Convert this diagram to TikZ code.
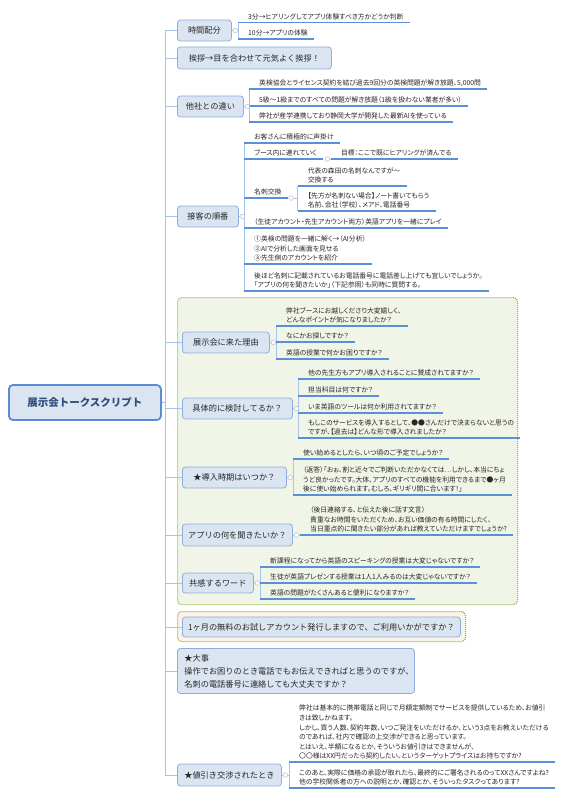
\documentclass[tikz,border=0pt]{standalone}
\usepackage{fontspec}
\newfontfamily\cjk{Noto Sans CJK JP}
\newfontfamily\cjkp[RawFeature=+palt]{Noto Sans CJK JP}
\usetikzlibrary{calc}
\definecolor{topicfill}{HTML}{DBE5F1}
\definecolor{topicline}{HTML}{8DAEDF}
\definecolor{rootline}{HTML}{5A8BD6}
\definecolor{roottext}{HTML}{2F4D7E}
\definecolor{conncol}{HTML}{A9C3E8}
\definecolor{ulcol}{HTML}{5B8FD8}
\definecolor{txt}{HTML}{262626}
\definecolor{grpfill}{HTML}{F1F5E8}
\definecolor{grpline}{HTML}{93B256}
\definecolor{grptwofill}{HTML}{FBF3E6}
\definecolor{grptwoline}{HTML}{9DA83C}
\definecolor{togline}{HTML}{BFC9D4}
\tikzset{
  topic/.style={draw=topicline, line width=0.8pt, fill=topicfill, rounded corners=3pt,
    font=\cjk\fontsize{8.2}{13}\selectfont, text=txt, inner sep=0pt, anchor=west},
  rootbox/.style={draw=rootline, line width=1.8pt, fill=topicfill, rounded corners=4pt,
    font=\cjk\bfseries\fontsize{10.5}{12}\selectfont, text=roottext, anchor=west, inner sep=0pt},
  leaf/.style={anchor=south west, xshift=4pt, inner xsep=6pt, inner ysep=2.3pt,
    font=\cjkp\fontsize{6.8}{9.6}\selectfont, align=left, text=txt},
  conn/.style={draw=conncol, line width=0.8pt},
  uline/.style={draw=ulcol, line width=1.4pt},
  tog/.style={circle, draw=togline, fill=white, line width=0.5pt, inner sep=0pt, minimum size=4.5pt},
  grpbox/.style={draw=grpline, dash pattern=on 1pt off 1pt, line width=1.1pt, fill=grpfill,
    rounded corners=4pt, anchor=north west, inner sep=0pt},
  grptwobox/.style={draw=grptwoline, dash pattern=on 1pt off 1pt, line width=1.1pt, fill=grptwofill,
    rounded corners=4pt, anchor=north west, inner sep=0pt}
}
\begin{document}
\begin{tikzpicture}[x=1pt,y=-1pt]
\useasboundingbox (0,0) rectangle (565,797);

% group backgrounds
\node[grpbox, minimum width=340pt, minimum height=307pt] (g1) at (177,297) {};
\node[grptwobox, minimum width=288pt, minimum height=30pt] (g2) at (177,611) {};

% root
\node[rootbox, minimum width=152pt, minimum height=35pt] (root) at (8,402.5) {展示会トークスクリプト};

% topics
\node[topic, minimum width=54pt, minimum height=21pt] (t1) at (177,30.5) {時間配分};
\node[topic, minimum width=154pt, minimum height=22pt] (t2) at (177,58) {挨拶→目を合わせて元気よく挨拶！};
\node[topic, minimum width=66pt, minimum height=21pt] (t3) at (177,106.5) {他社との違い};
\node[topic, minimum width=61pt, minimum height=21pt] (t4) at (177,216.5) {接客の順番};
\node[topic, minimum width=87pt, minimum height=21pt] (t5) at (182,342.5) {展示会に来た理由};
\node[topic, minimum width=110pt, minimum height=21pt] (t6) at (182,408.5) {具体的に検討してるか？};
\node[topic, minimum width=104pt, minimum height=21pt] (t7) at (182,477.5) {★導入時期はいつか？};
\node[topic, minimum width=110pt, minimum height=22pt] (t8) at (182,535) {アプリの何を聞きたいか？};
\node[topic, minimum width=71pt, minimum height=20pt] (t9) at (182,583) {共感するワード};
\node[topic, minimum width=278pt, minimum height=20pt] (t10) at (182,627) {1ヶ月の無料のお試しアカウント発行しますので、ご利用いかがですか？};
\node[topic, anchor=north west, minimum width=237pt, minimum height=45pt, align=left, text width=223pt, inner xsep=7pt] (t11) at (177,648)
  {★大事\\操作でお困りのとき電話でもお伝えできればと思うのですが、\\名刺の電話番号に連絡しても大丈夫ですか？};
\node[topic, minimum width=104pt, minimum height=22pt] (t12) at (177,775) {★値引き交渉されたとき};

% trunk
\coordinate (trunk) at (165,0);
\draw[conn] (root.east) -- (root.east -| trunk);
\draw[conn] (trunk |- t1.west) -- (trunk |- t12.west);
\foreach \t in {t1,t2,t3,t4,t5,t6,t7,t8,t9,t10,t11,t12}
  \draw[conn] (trunk |- \t.west) -- (\t.west);

% toggles
\foreach \t/\c in {t1/c1,t3/c3,t4/c4,t5/c5,t6/c6,t7/c7,t8/c8,t9/c9,t12/c12}
  \node[tog] (\c) at ([xshift=3.5pt]\t.east) {};

% leaves: 時間配分
\node[leaf] (l1a) at (238,22.5) {3分→ヒアリングしてアプリ体験すべき方かどうか判断};
\node[leaf] (l1b) at (238,39) {10分→アプリの体験};
% 他社との違い
\node[leaf] (l3a) at (249,89) {英検協会とライセンス契約を結び過去9回分の英検問題が解き放題、5,000問};
\node[leaf] (l3b) at (249,106) {5級～1級までのすべての問題が解き放題（1級を扱わない業者が多い）};
\node[leaf] (l3c) at (249,122) {弊社が産学連携しており静岡大学が開発した最新AIを使っている};
% 接客の順番
\node[leaf] (l4a) at (244,143) {お客さんに積極的に声掛け};
\node[leaf] (l4b) at (244,159) {ブース内に連れていく};
\node[tog] (c4b) at ([xshift=4.5pt]l4b.south east) {};
\node[leaf] (l4bx) at ([xshift=1pt]c4b.east) {目標：ここで既にヒアリングが済んでる};
\node[leaf] (l4c) at (244,198) {名刺交換};
\node[tog] (c4c) at ([xshift=3.5pt]l4c.south east) {};
\node[leaf] (l4ca) at ([xshift=4pt,yshift=12pt]c4c.east) {代表の森田の名刺なんですが～\\交換する};
\node[leaf] (l4cb) at ([xshift=4pt,yshift=-13pt]c4c.east) {【先方が名刺ない場合】ノート書いてもらう\\名前、会社（学校）、メアド、電話番号};
\node[leaf] (l4d) at (244,228) {（生徒アカウント・先生アカウント両方）英語アプリを一緒にプレイ};
\node[leaf] (l4e) at (244,264) {①英検の問題を一緒に解く→（AI分析）\\②AIで分析した画面を見せる\\③先生側のアカウントを紹介};
\node[leaf] (l4f) at (244,291) {後ほど名刺に記載されているお電話番号に電話差し上げても宜しいでしょうか。\\「アプリの何を聞きたいか」（下記参照）も同時に質問する。};
% 展示会に来た理由
\node[leaf] (l5a) at (276,326) {弊社ブースにお越しくださり大変嬉しく、\\どんなポイントが気になりましたか？};
\node[leaf] (l5b) at (276,342) {なにかお探しですか？};
\node[leaf] (l5c) at (276,359) {英語の授業で何かお困りですか？};
% 具体的に検討してるか
\node[leaf] (l6a) at (298,379) {他の先生方もアプリ導入されることに賛成されてますか？};
\node[leaf] (l6b) at (298,396) {担当科目は何ですか？};
\node[leaf] (l6c) at (298,413) {いま英語のツールは何か利用されてますか？};
\node[leaf] (l6d) at (298,438) {もしこのサービスを導入するとして、●●さんだけで決まらないと思うの\\ですが、【過去は】どんな形で導入されましたか？};
% 導入時期
\node[leaf] (l7a) at (293,459) {使い始めるとしたら、いつ頃のご予定でしょうか？};
\node[leaf] (l7b) at (293,495) {（返答）「おぉ、割と近々でご判断いただかなくては…しかし、本当にちょ\\うど良かったです。大体、アプリのすべての機能を利用できるまで●ヶ月\\後に使い始められます。むしろ、ギリギリ間に合います！」};
% アプリの何を聞きたいか
\node[leaf] (l8a) at (300,535) {（後日連絡する、と伝えた後に話す文言）\\貴重なお時間をいただくため、お互い価値の有る時間にしたく、\\当日重点的に聞きたい部分があれば教えていただけますでしょうか?};
% 共感するワード
\node[leaf] (l9a) at (260,567) {新課程になってから英語のスピーキングの授業は大変じゃないですか？};
\node[leaf] (l9b) at (260,583) {生徒が英語プレゼンする授業は1人1人みるのは大変じゃないですか？};
\node[leaf] (l9c) at (260,599) {英語の問題がたくさんあると便利になりますか？};
% 値引き
\node[leaf] (l12a) at (289,762) {弊社は基本的に携帯電話と同じで月額定額制でサービスを提供しているため、お値引\\きは致しかねます。\\しかし、買う人数、契約年数、いつご発注をいただけるか、という3点をお教えいただける\\のであれば、社内で確認の上交渉ができると思っています。\\とはいえ、半額になるとか、そういうお値引きはできませんが、\\〇〇様はXX円だったら契約したい、というターゲットプライスはお持ちですか?};
\node[leaf] (l12b) at (289,788) {このあと、実際に価格の承認が取れたら、最終的にご署名されるのってXXさんですよね?\\他の学校関係者の方への説明とか、確認とか、そういったタスクってあります?};

% connectors topic -> toggle -> bracket
\foreach \t/\c/\a/\b in {t1/c1/l1a/l1b, t3/c3/l3a/l3c, t4/c4/l4a/l4f, t5/c5/l5a/l5c, t6/c6/l6a/l6d, t7/c7/l7a/l7b, t9/c9/l9a/l9c, t12/c12/l12a/l12b}{
  \draw[conn] (\t.east) -- (\c.west);
  \draw[conn] (\c.east) -- ([xshift=-4pt]\a.south west |- \c.east);
  \draw[conn] ([xshift=-4pt]\a.south west) -- ([xshift=-4pt]\b.south west);
}
\draw[conn] (t8.east) -- (c8.west);
\draw[conn] (c8.east) -- ([xshift=-4pt]l8a.south west);
\draw[conn] (c4b.east) -- ([xshift=-4pt]l4bx.south west);
\draw[conn] (c4c.east) -- ([xshift=-4pt]l4ca.south west |- c4c.east);
\draw[conn, rounded corners=3pt] ([xshift=-4pt]l4ca.south west) -- ([xshift=-4pt]l4cb.south west);

% underlines
\foreach \n in {l1a,l1b,l3a,l3b,l3c,l4a,l4b,l4bx,l4c,l4ca,l4cb,l4d,l4e,l4f,l5a,l5b,l5c,l6a,l6b,l6c,l6d,l7a,l7b,l8a,l9a,l9b,l9c,l12a,l12b}
  \draw[uline] ([xshift=-4pt]\n.south west) -- (\n.south east);
% redraw toggles on top
\foreach \c in {c1,c3,c4,c5,c6,c7,c8,c9,c12,c4b,c4c}
  \draw[draw=togline, fill=white, line width=0.5pt] (\c) circle (2.25pt);
\end{tikzpicture}
\end{document}
